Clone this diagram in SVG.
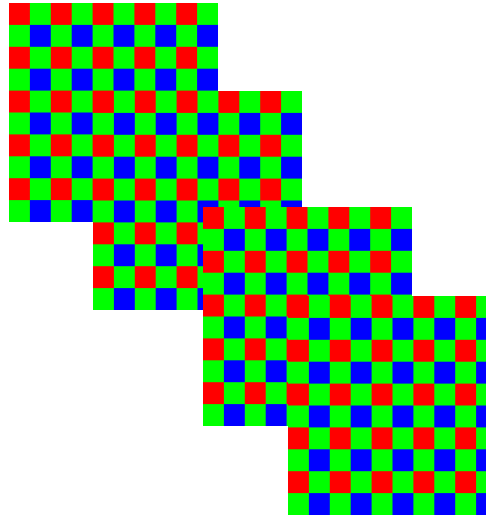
<svg xmlns="http://www.w3.org/2000/svg" xmlns:xlink="http://www.w3.org/1999/xlink" width="486" height="515" viewBox="0 0 486 515">
  <defs>
    <pattern id="bayer" patternUnits="userSpaceOnUse" x="0" y="0" width="41.8" height="43.8">
      <rect x="0" y="0" width="41.8" height="43.8" fill="#00ff00"/>
      <rect x="0" y="0" width="20.9" height="21.9" fill="#ff0000"/>
      <rect x="20.9" y="0" width="20.9" height="21.9" fill="#00ff00"/>
      <rect x="20.9" y="21.9" width="20.9" height="21.9" fill="#0000ff"/>
    </pattern>
    <rect id="sq" x="0" y="0" width="209" height="219" fill="url(#bayer)"/>
  </defs>
  <rect width="486" height="515" fill="#ffffff"/>
  <g id="sensor1"><use xlink:href="#sq" href="#sq" x="9" y="3"/></g>
  <g id="sensor2"><use xlink:href="#sq" href="#sq" x="93" y="91"/></g>
  <g id="sensor3"><use xlink:href="#sq" href="#sq" x="203" y="207"/></g>
  <g id="sensor4"><use xlink:href="#sq" href="#sq" x="288" y="296"/></g>
  <g id="connectors"/>
</svg>
